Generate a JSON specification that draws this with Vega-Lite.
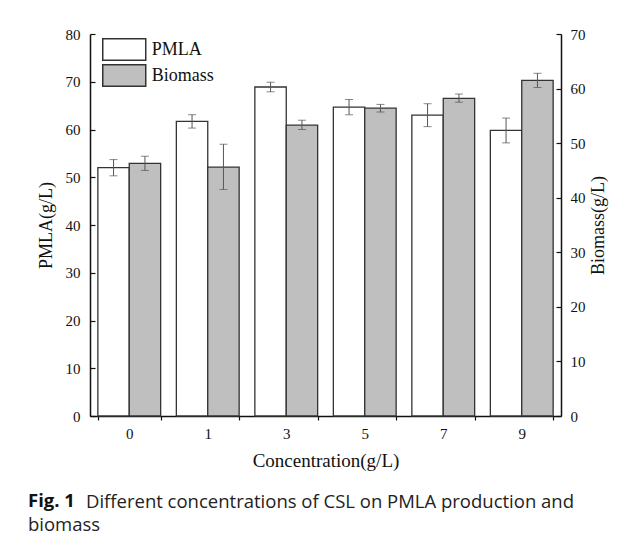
{
  "$schema": "https://vega.github.io/schema/vega-lite/v6.json",
  "background": "white",
  "padding": {"left": 28, "top": 27, "right": 4, "bottom": 4},
  "config": {"view": {"stroke": null}, "font": "Liberation Serif"},
  "datasets": {
    "d": [
      {"conc": "0", "series": "PMLA", "value": 52.0, "lo": 50.3, "hi": 53.7},
      {"conc": "1", "series": "PMLA", "value": 61.7, "lo": 60.3, "hi": 63.1},
      {"conc": "3", "series": "PMLA", "value": 68.9, "lo": 67.9, "hi": 69.9},
      {"conc": "5", "series": "PMLA", "value": 64.7, "lo": 63.1, "hi": 66.3},
      {"conc": "7", "series": "PMLA", "value": 63.0, "lo": 60.6, "hi": 65.4},
      {"conc": "9", "series": "PMLA", "value": 59.8, "lo": 57.2, "hi": 62.4},
      {"conc": "0", "series": "Biomass", "value": 46.3, "lo": 45.0, "hi": 47.6},
      {"conc": "1", "series": "Biomass", "value": 45.6, "lo": 41.5, "hi": 49.8},
      {"conc": "3", "series": "Biomass", "value": 53.3, "lo": 52.5, "hi": 54.2},
      {"conc": "5", "series": "Biomass", "value": 56.4, "lo": 55.7, "hi": 57.1},
      {"conc": "7", "series": "Biomass", "value": 58.2, "lo": 57.5, "hi": 59.0},
      {"conc": "9", "series": "Biomass", "value": 61.5, "lo": 60.2, "hi": 62.8}
    ]
  },
  "title": {
    "text": "Different concentrations of CSL on PMLA production and",
    "orient": "bottom", "anchor": "start",
    "font": "Open Sans", "fontSize": 18.5, "fontWeight": "normal", "color": "#222",
    "dx": 58, "dy": -45
  },
  "vconcat": [
    {
      "width": 471,
      "height": 382,
      "title": {
        "text": "Fig. 1", "subtitle": "biomass",
        "orient": "bottom", "anchor": "start", "frame": "group",
        "font": "Open Sans", "fontSize": 18.5, "fontWeight": "bold", "color": "#111",
        "subtitleFont": "Open Sans", "subtitleFontSize": 18.5, "subtitleColor": "#222",
        "subtitlePadding": 5, "offset": 22, "dx": -62
      },
      "data": {"name": "d"},
      "encoding": {
        "x": {
          "field": "conc", "type": "nominal", "sort": null,
          "scale": {"paddingInner": 0.2, "paddingOuter": 0.1},
          "axis": {
            "title": "Concentration(g/L)", "labelAngle": 0, "tickBand": "extent",
            "tickSize": 4, "tickColor": "#111", "tickWidth": 1.2,
            "domainColor": "#111", "domainWidth": 1.5,
            "labelFont": "Liberation Serif", "labelFontSize": 15, "labelColor": "#111", "labelPadding": 6,
            "titleFont": "Liberation Serif", "titleFontSize": 19, "titleFontWeight": "normal",
            "titleColor": "#111", "titlePadding": 10
          }
        },
        "xOffset": {
          "field": "series", "type": "nominal",
          "scale": {"domain": ["PMLA", "Biomass"], "paddingInner": 0, "paddingOuter": 0}
        }
      },
      "layer": [
        {
          "transform": [{"filter": "datum.series === 'PMLA'"}],
          "layer": [
            {
              "mark": {"type": "bar", "stroke": "#333", "strokeWidth": 1.3},
              "encoding": {
                "y": {
                  "field": "value", "type": "quantitative",
                  "scale": {"domain": [0, 80], "nice": false},
                  "axis": {
                    "title": "PMLA(g/L)", "orient": "left", "grid": false,
                    "values": [0, 5, 10, 15, 20, 25, 30, 35, 40, 45, 50, 55, 60, 65, 70, 75, 80],
                    "labelExpr": "datum.value % 10 === 0 ? datum.label : ''",
                    "tickSize": {"condition": {"test": "datum.value % 10 === 0", "value": -5}, "value": 3},
                    "tickColor": "#111", "tickWidth": 1.2,
                    "domainColor": "#111", "domainWidth": 1.5,
                    "labelFont": "Liberation Serif", "labelFontSize": 15, "labelColor": "#111", "labelPadding": 15,
                    "titleFont": "Liberation Serif", "titleFontSize": 18, "titleFontWeight": "normal",
                    "titleColor": "#111", "titlePadding": 10
                  }
                },
                "fill": {
                  "field": "series", "type": "nominal",
                  "scale": {"domain": ["PMLA", "Biomass"], "range": ["#ffffff", "#bfbfbf"]},
                  "legend": {
                    "orient": "none", "legendX": 22.75, "legendY": 4, "title": null,
                    "symbolType": "M-2,-1H2V1H-2Z", "symbolSize": 462,
                    "symbolStrokeColor": "#333", "symbolStrokeWidth": 1.5, "symbolOpacity": 1,
                    "labelFont": "Liberation Serif", "labelFontSize": 18, "labelColor": "#111",
                    "labelOffset": 16, "rowPadding": -6.5, "padding": 0,
                    "encode": {"symbols": {"update": {
                      "fill": {"signal": "datum.value === 'Biomass' ? '#8c8c8c' : '#ffffff'"},
                      "stroke": {"value": "#333"},
                      "strokeWidth": {"value": 1.5},
                      "opacity": {"value": 1}
                    }}}
                  }
                }
              }
            },
            {
              "mark": {"type": "rule", "color": "#555", "strokeWidth": 1},
              "encoding": {"y": {"field": "lo", "type": "quantitative"}, "y2": {"field": "hi"}}
            },
            {
              "mark": {"type": "tick", "color": "#555", "thickness": 1, "size": 8},
              "encoding": {"y": {"field": "lo", "type": "quantitative"}}
            },
            {
              "mark": {"type": "tick", "color": "#555", "thickness": 1, "size": 8},
              "encoding": {"y": {"field": "hi", "type": "quantitative"}}
            }
          ]
        },
        {
          "transform": [{"filter": "datum.series === 'Biomass'"}],
          "layer": [
            {
              "mark": {"type": "bar", "stroke": "#333", "strokeWidth": 1.3},
              "encoding": {
                "y": {
                  "field": "value", "type": "quantitative",
                  "scale": {"domain": [0, 70], "nice": false},
                  "axis": {
                    "title": "Biomass(g/L)", "orient": "right", "grid": false, "titleAngle": 270,
                    "values": [0, 5, 10, 15, 20, 25, 30, 35, 40, 45, 50, 55, 60, 65, 70],
                    "labelExpr": "datum.value % 10 === 0 ? datum.label : ''",
                    "tickSize": {"condition": {"test": "datum.value % 10 === 0", "value": -5}, "value": 3},
                    "tickColor": "#111", "tickWidth": 1.2,
                    "domainColor": "#111", "domainWidth": 1.5,
                    "labelFont": "Liberation Serif", "labelFontSize": 15, "labelColor": "#111", "labelPadding": 14,
                    "titleFont": "Liberation Serif", "titleFontSize": 18, "titleFontWeight": "normal",
                    "titleColor": "#111", "titlePadding": 22
                  }
                },
                "fill": {"field": "series", "type": "nominal", "scale": {"domain": ["PMLA", "Biomass"], "range": ["#ffffff", "#bfbfbf"]}}
              }
            },
            {
              "mark": {"type": "rule", "color": "#555", "strokeWidth": 1},
              "encoding": {"y": {"field": "lo", "type": "quantitative"}, "y2": {"field": "hi"}}
            },
            {
              "mark": {"type": "tick", "color": "#555", "thickness": 1, "size": 8},
              "encoding": {"y": {"field": "lo", "type": "quantitative"}}
            },
            {
              "mark": {"type": "tick", "color": "#555", "thickness": 1, "size": 8},
              "encoding": {"y": {"field": "hi", "type": "quantitative"}}
            }
          ]
        }
      ],
      "resolve": {"scale": {"y": "independent"}}
    }
  ]
}
